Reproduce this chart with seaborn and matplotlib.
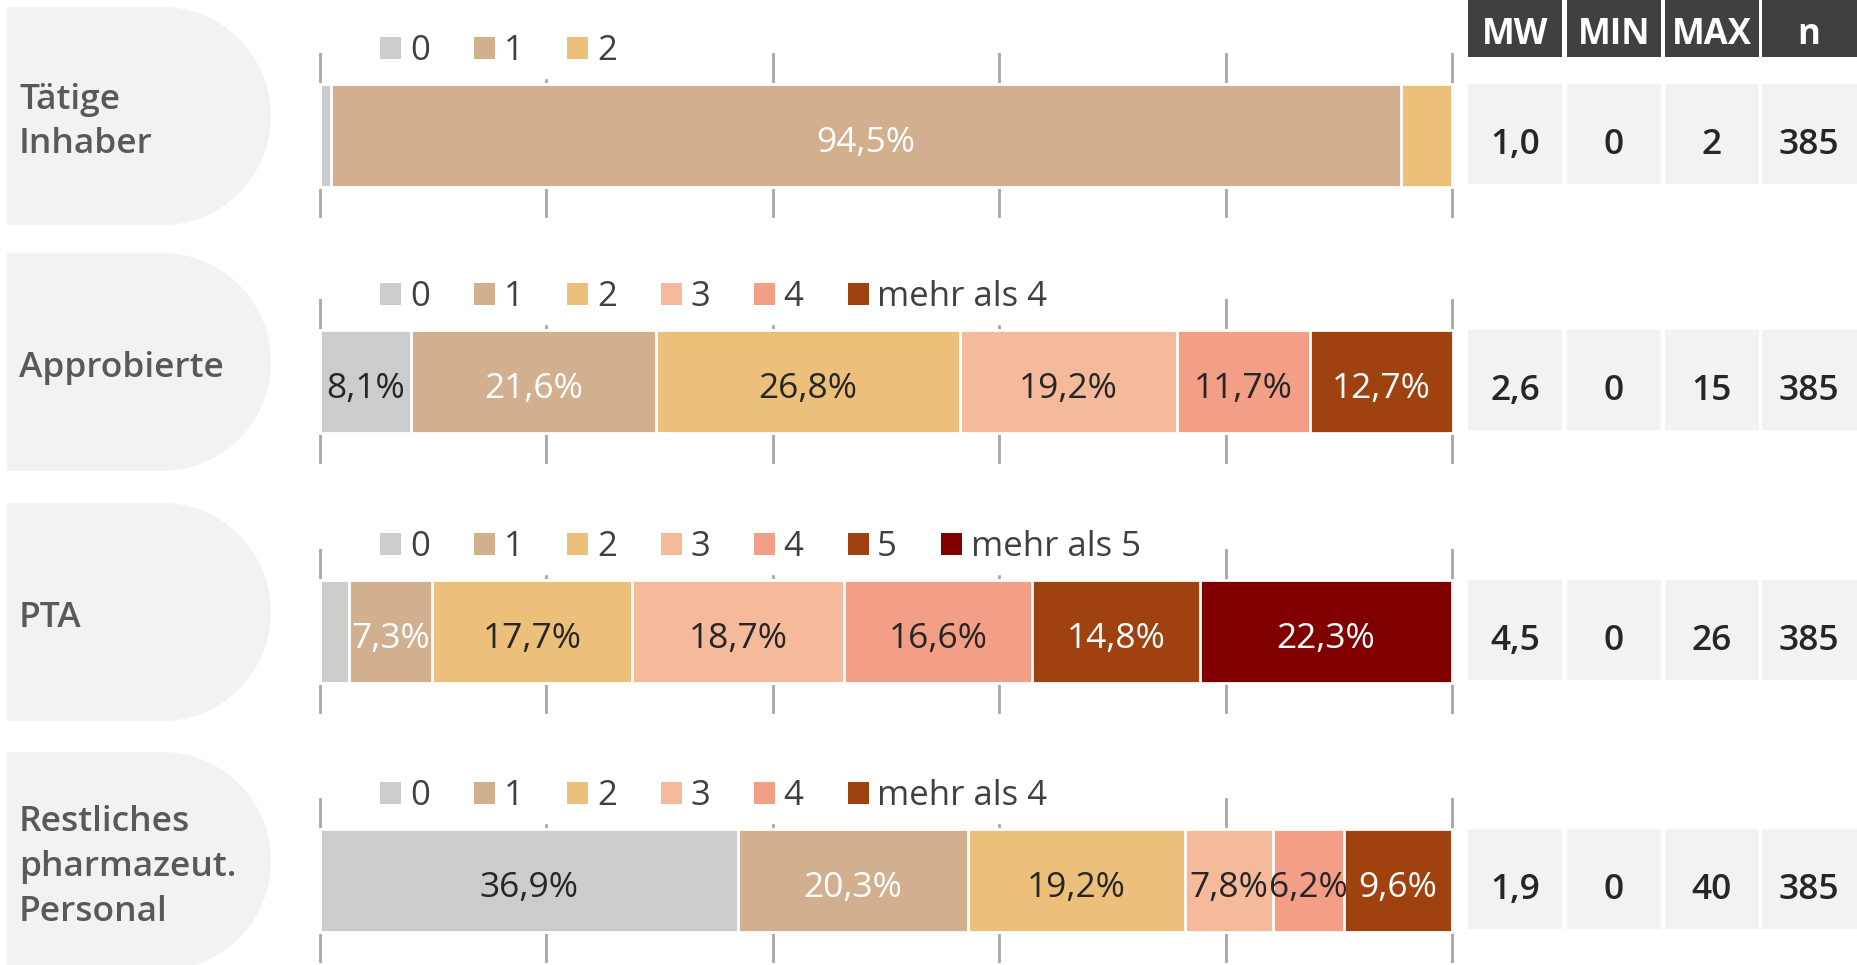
import numpy as np
import matplotlib
matplotlib.use("Agg")
import matplotlib.pyplot as plt
from matplotlib.patches import Polygon, Rectangle, Patch
import seaborn as sns

# Anzahl Mitarbeiter je Gruppe (Anteile in %)
groups = ["Tätige\nInhaber", "Approbierte", "PTA", "Restliches\npharmazeut.\nPersonal"]

cats_inhaber = ["0", "1", "2"]
pct_inhaber = [1.0, 94.5, 4.5]

cats_approb = ["0", "1", "2", "3", "4", "mehr als 4"]
pct_approb = [8.1, 21.6, 26.8, 19.2, 11.7, 12.7]

cats_pta = ["0", "1", "2", "3", "4", "5", "mehr als 5"]
pct_pta = [2.6, 7.3, 17.7, 18.7, 16.6, 14.8, 22.3]

cats_rest = ["0", "1", "2", "3", "4", "mehr als 4"]
pct_rest = [36.9, 20.3, 19.2, 7.8, 6.2, 9.6]

stat_header = ["MW", "MIN", "MAX", "n"]
stat_mw = ["1,0", "2,6", "4,5", "1,9"]
stat_min = [0, 0, 0, 0]
stat_max = [2, 15, 26, 40]
stat_n = [385, 385, 385, 385]

cat_colors = {"0": "#cccccc", "1": "#d2af8f", "2": "#ecc07a", "3": "#f5b99c",
              "4": "#f39f87", "5": "#a04110", "mehr als 4": "#a04110",
              "mehr als 5": "#800000"}
white_text = {"1", "5", "mehr als 4", "mehr als 5"}

panels = [(cats_inhaber, pct_inhaber), (cats_approb, pct_approb),
          (cats_pta, pct_pta), (cats_rest, pct_rest)]

sns.set_style("white")
plt.rcParams["font.family"] = ["Open Sans", "DejaVu Sans"]

W, H = 1857, 965
fig = plt.figure(figsize=(W / 100, H / 100), dpi=100)

# background layer in pixel coordinates (label shapes + table)
bg = fig.add_axes([0, 0, 1, 1], zorder=-1)
bg.set_xlim(0, W)
bg.set_ylim(H, 0)
bg.axis("off")

shape_tops = [7, 253, 503, 752]
shape_h = 218
axes_h = 165
bar_w = 0.62
ax_left, ax_w = 318, 1136
col_left = [1468, 1567, 1665, 1762]
col_w = 94

# table header
for j, head in enumerate(stat_header):
    bg.add_patch(Rectangle((col_left[j], 0), col_w + (1 if j == 3 else 0), 57,
                           facecolor="#404040", edgecolor="none"))
    bg.text(col_left[j] + col_w / 2, 44, head, ha="center", va="baseline",
            fontsize=25, fontweight="bold", color="white")

for i, (cats, vals) in enumerate(panels):
    top = shape_tops[i]

    # rounded label shape
    r = shape_h / 2
    x0, x1 = 7, 271
    cx, cy = x1 - r, top + r
    t = np.linspace(-np.pi / 2, np.pi / 2, 60)
    pts = [(x0, top)] + list(zip(cx + r * np.cos(t), cy + r * np.sin(t))) + [(x0, top + shape_h)]
    bg.add_patch(Polygon(pts, closed=True, facecolor="#f2f2f2", edgecolor="none"))
    bg.text(19, cy + 6, groups[i], ha="left", va="center", fontsize=25.5,
            fontweight="semibold", color="#595959", linespacing=1.42)

    # stacked bar
    ax_top = top + 46
    ax = fig.add_axes([ax_left / W, 1 - (ax_top + axes_h) / H, ax_w / W, axes_h / H])
    cum = np.cumsum(vals)
    for k in reversed(range(len(vals))):
        sns.barplot(x=[cum[k]], y=[0], orient="h", color=cat_colors[cats[k]],
                    saturation=1, width=bar_w, edgecolor="white", linewidth=2, ax=ax)
    for k, v in enumerate(vals):
        if v >= 5:
            ax.text(cum[k] - v / 2, 0.1, f"{v:.1f}".replace(".", ",") + "%",
                    ha="center", va="baseline", fontsize=25.5,
                    color="white" if cats[k] in white_text else "#262626")
    ax.set_xlim(-0.15, 100.15)
    ax.set_ylim(0.5, -0.5)
    ax.set_xticks([0, 20, 40, 60, 80, 100])
    ax.grid(axis="x", color="#a6a6a6", linewidth=2)
    ax.grid(axis="y", visible=False)
    ax.set_axisbelow(True)
    ax.tick_params(length=0, labelbottom=False, labelleft=False)
    ax.set_xlabel("")
    ax.set_ylabel("")
    sns.despine(ax=ax, left=True, bottom=True)

    handles = [Patch(facecolor=cat_colors[c], edgecolor="none") for c in cats]
    leg = ax.legend(handles, cats, loc="center left", bbox_to_anchor=(52 / ax_w, 1.012),
                    ncol=len(cats), frameon=True, facecolor="white", edgecolor="white",
                    framealpha=1, fontsize=25, handlelength=0.6, handleheight=0.6,
                    handletextpad=0.25, columnspacing=1.27, borderpad=0.3, borderaxespad=0)
    for txt in leg.get_texts():
        txt.set_color("#404040")

    # statistics cells
    cell_top = ax_top + 31
    cells = [stat_mw[i], stat_min[i], stat_max[i], stat_n[i]]
    for j, val in enumerate(cells):
        bg.add_patch(Rectangle((col_left[j], cell_top), col_w + (1 if j == 3 else 0), 100,
                               facecolor="#f2f2f2", edgecolor="none"))
        bg.text(col_left[j] + col_w / 2, cell_top + 70, str(val), ha="center", va="baseline",
                fontsize=25.5, fontweight="semibold", color="#262626")

fig.savefig("out.png", dpi=100)
